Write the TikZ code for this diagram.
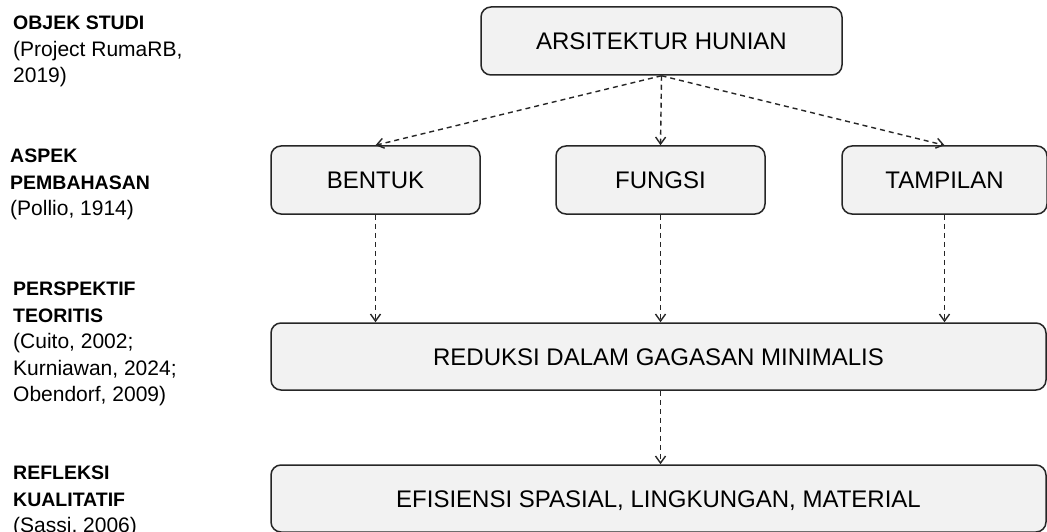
\documentclass[tikz,border=0pt]{standalone}
\usepackage{fontspec}
\setmainfont{Liberation Sans}
\usepackage{xcolor}
\usepackage{tikz}
\usetikzlibrary{positioning,arrows.meta}
\definecolor{boxfill}{HTML}{F2F2F2}
\definecolor{boxline}{HTML}{262626}
\newcommand{\lblhead}[1]{{\fontsize{19.5}{26.5}\selectfont\bfseries #1}}

\begin{document}
\begin{tikzpicture}[
    x=1pt, y=-1pt,
    box/.style={draw=boxline, line width=1.5pt, fill=boxfill, minimum height=68pt, align=center, rounded corners=10pt, inner sep=0pt, text height=17.2pt, text depth=0pt, font=\fontsize{24}{28}\selectfont},
    lbl/.style={anchor=north west, align=left, inner sep=0pt, font=\fontsize{21}{26.5}\selectfont},
    arr/.style={-{Straight Barb[length=7pt,width=10pt]}, line width=1.4pt, draw=boxline, dash pattern=on 5pt off 4pt}
]
    \path[use as bounding box, fill=white] (0,0) rectangle (1047,532);

    \node[box, minimum width=361pt] (arsi) at (661.5,41) {ARSITEKTUR HUNIAN};
    \node[box, minimum width=209pt] (bentuk) at (375.5,180) {BENTUK};
    \node[box, minimum width=209pt] (fungsi) at (660.5,180) {FUNGSI};
    \node[box, minimum width=205pt] (tampil) at (944.5,180) {TAMPILAN};
    \node[box, minimum width=775pt, minimum height=67pt] (reduksi) at (658.5,356.5) {REDUKSI DALAM GAGASAN MINIMALIS};
    \node[box, minimum width=775pt, minimum height=67pt] (efisien) at (658.5,498.5) {EFISIENSI SPASIAL, LINGKUNGAN, MATERIAL};

    \draw[arr] (arsi.south) -- (bentuk.north);
    \draw[arr] (arsi.south) -- (fungsi.north);
    \draw[arr] (arsi.south) -- (tampil.north);
    \draw[arr] (bentuk.south) -- (bentuk.south |- reduksi.north);
    \draw[arr] (fungsi.south) -- (fungsi.south |- reduksi.north);
    \draw[arr] (tampil.south) -- (tampil.south |- reduksi.north);
    \draw[arr] (fungsi.south |- reduksi.south) -- (fungsi.south |- efisien.north);

    \node[lbl] (objek) at (13,16) {\lblhead{OBJEK STUDI}\\(Project RumaRB,\\2019)};
    \node[lbl] (aspek) at (10,149) {\lblhead{ASPEK}\\\lblhead{PEMBAHASAN}\\(Pollio, 1914)};
    \node[lbl] (persp) at (13,282) {\lblhead{PERSPEKTIF}\\\lblhead{TEORITIS}\\(Cuito, 2002;\\Kurniawan, 2024;\\Obendorf, 2009)};
    \node[lbl] (refl) at (13,466) {\lblhead{REFLEKSI}\\\lblhead{KUALITATIF}\\(Sassi, 2006)};
\end{tikzpicture}
\end{document}
